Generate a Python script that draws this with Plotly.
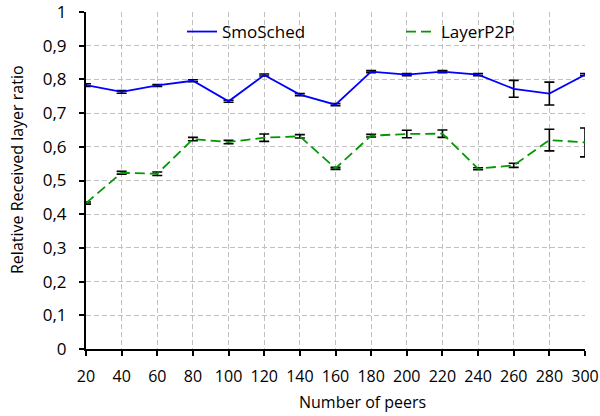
import plotly.graph_objects as go

peers = [20, 40, 60, 80, 100, 120, 140, 160, 180, 200, 220, 240, 260, 280, 300]

smosched = [0.783, 0.763, 0.782, 0.796, 0.735, 0.813, 0.755, 0.725, 0.823, 0.814, 0.823, 0.814, 0.772, 0.758, 0.814]
smosched_err = [0.004, 0.004, 0.003, 0.003, 0.003, 0.003, 0.003, 0.003, 0.003, 0.003, 0.003, 0.003, 0.025, 0.034, 0.003]

layerp2p = [0.433, 0.523, 0.520, 0.623, 0.614, 0.627, 0.631, 0.536, 0.633, 0.638, 0.639, 0.535, 0.545, 0.620, 0.613]
layerp2p_err = [0.003, 0.004, 0.005, 0.005, 0.005, 0.011, 0.005, 0.003, 0.004, 0.011, 0.011, 0.003, 0.006, 0.032, 0.043]

y_tick_vals = [0, 0.1, 0.2, 0.3, 0.4, 0.5, 0.6, 0.7, 0.8, 0.9, 1]
y_tick_text = ["0", "0,1", "0,2", "0,3", "0,4", "0,5", "0,6", "0,7", "0,8", "0,9", "1"]

FONT = "Open Sans"
L, R, T, B = 86, 15, 12, 67
W, H = 600, 416
pw, ph = W - L - R, H - T - B


def px_x(x):
    return (x - L) / pw


def px_y(y):
    return (H - B - y) / ph


fig = go.Figure()
fig.add_trace(go.Scatter(
    x=peers, y=smosched, name="SmoSched", mode="lines",
    line=dict(color="#0000FF", width=1.8),
    error_y=dict(type="data", array=smosched_err, color="black", thickness=1.6, width=5),
    cliponaxis=False, legend="legend", showlegend=True,
))
fig.add_trace(go.Scatter(
    x=peers, y=layerp2p, name="LayerP2P", mode="lines",
    line=dict(color="#009900", width=1.8, dash="10px,5px"),
    error_y=dict(type="data", array=layerp2p_err, color="black", thickness=1.6, width=5),
    cliponaxis=False, legend="legend2", showlegend=True,
))

legend_common = dict(
    orientation="h", xanchor="left", yanchor="middle", visible=True,
    bgcolor="rgba(0,0,0,0)", font=dict(size=17, family=FONT),
)

fig.update_layout(
    width=W, height=H, showlegend=True,
    margin=dict(l=L, r=R, t=T, b=B),
    paper_bgcolor="white", plot_bgcolor="white",
    font=dict(family=FONT, color="black"),
    legend=dict(x=px_x(182), y=px_y(32), **legend_common),
    legend2=dict(x=px_x(401), y=px_y(32), **legend_common),
    xaxis=dict(
        range=[20, 300], tickvals=peers, automargin=False,
        showgrid=True, gridcolor="#C0C0C0", griddash="5px,3px", gridwidth=1,
        showline=True, linecolor="black", linewidth=2,
        ticks="outside", ticklen=5, tickcolor="black", tickwidth=1.5,
        tickfont=dict(size=16, family=FONT), ticklabelstandoff=7,
        ticklabeloverflow="allow", zeroline=False,
    ),
    yaxis=dict(
        range=[0, 1], tickvals=y_tick_vals, ticktext=y_tick_text, automargin=False,
        showgrid=True, gridcolor="#C0C0C0", griddash="5px,3px", gridwidth=1,
        showline=True, linecolor="black", linewidth=2,
        ticks="outside", ticklen=5, tickcolor="black", tickwidth=1.5,
        tickfont=dict(size=17, family=FONT), ticklabelstandoff=9,
        ticklabeloverflow="allow", zeroline=False,
    ),
    annotations=[
        dict(text="Number of peers", x=px_x(362), y=px_y(402), xref="paper", yref="paper",
             xanchor="center", yanchor="middle",
             showarrow=False, font=dict(size=16, family=FONT)),
        dict(text="Relative Received layer ratio", x=px_x(17), y=px_y(170), textangle=-90,
             xanchor="center", yanchor="middle",
             xref="paper", yref="paper", showarrow=False, font=dict(size=16, family=FONT)),
    ],
)

fig.write_html(
    "out.html",
    config={"displayModeBar": False},
    post_script="document.body.style.margin='0';document.body.style.overflow='hidden';",
)
